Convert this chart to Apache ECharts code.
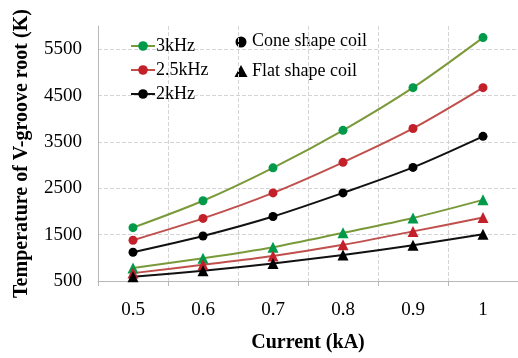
<!DOCTYPE html>
<html>
<head>
<meta charset="utf-8">
<script src="https://cdn.jsdelivr.net/npm/echarts@6/dist/echarts.min.js"></script>
<style>
  html, body { margin: 0; padding: 0; background: #fff; }
  #box { width: 518px; height: 358px; }
</style>
</head>
<body>
<div id="box"></div>
<script>
var currents = ['0.5', '0.6', '0.7', '0.8', '0.9', '1'];
var yTicks = [500, 6000, 1000];

// cone shape coil
var cone3k = [1650, 2230, 2940, 3750, 4670, 5750];
var cone25k = [1380, 1850, 2400, 3060, 3790, 4670];
var cone2k = [1120, 1470, 1890, 2400, 2950, 3620];
// flat shape coil
var flat3k = [780, 990, 1230, 1540, 1860, 2250];
var flat25k = [670, 850, 1040, 1280, 1570, 1870];
var flat2k = [590, 720, 880, 1060, 1270, 1510];

var serif = '"Liberation Serif", "Times New Roman", serif';

function line(name, data, symbol, lineColor, dotColor, size) {
  return {
    name: name,
    type: 'line',
    data: data,
    smooth: 0.3,
    symbol: symbol,
    symbolSize: size,
    showAllSymbol: true,
    lineStyle: { color: lineColor, width: 2 },
    itemStyle: { color: dotColor },
    emphasis: { disabled: true }
  };
}

var myChart = echarts.init(document.getElementById('box'));
var option = {
  animation: false,
  grid: { left: 98, right: 0, top: 26, bottom: 75 },
  legend: {
    data: ['3kHz', '2.5kHz', '2kHz'],
    orient: 'vertical',
    left: 125,
    top: 32,
    itemWidth: 24,
    itemHeight: 12,
    itemGap: 6,
    selectedMode: false,
    textStyle: { fontFamily: serif, fontSize: 18, color: '#000', padding: [0, 0, 0, -4] }
  },
  xAxis: {
    type: 'category',
    data: currents,
    name: 'Current (kA)',
    nameLocation: 'middle',
    nameGap: 52,
    nameTextStyle: { fontFamily: serif, fontSize: 20, fontWeight: 'bold', color: '#000' },
    axisLine: { lineStyle: { color: '#b8b8b8' } },
    axisTick: { show: true, length: 5, lineStyle: { color: '#b8b8b8' } },
    axisLabel: { fontFamily: serif, fontSize: 19, color: '#000', margin: 20 },
    splitLine: { show: true, lineStyle: { color: '#d4d4d4', type: 'dashed' } }
  },
  yAxis: {
    type: 'value',
    min: yTicks[0],
    max: yTicks[1],
    interval: yTicks[2],
    name: 'Temperature of V-groove root (K)',
    nameLocation: 'middle',
    nameGap: 66,
    nameTextStyle: { fontFamily: serif, fontSize: 20, fontWeight: 'bold', color: '#000' },
    axisLine: { show: true, lineStyle: { color: '#b8b8b8' } },
    axisTick: { show: false },
    axisLabel: {
      fontFamily: serif, fontSize: 19, color: '#000', margin: 16, showMaxLabel: false,
      formatter: function (v) { return String(v); }
    },
    splitLine: { show: true, showMaxLine: false, lineStyle: { color: '#d4d4d4', type: 'dashed' } }
  },
  graphic: [
    { type: 'circle', shape: { cx: 241, cy: 42, r: 5.5 }, style: { fill: '#000' } },
    { type: 'polygon', shape: { points: [[241, 65], [247.5, 77], [234.5, 77]] }, style: { fill: '#000' } },
    { type: 'text', left: 252, top: 32, style: { text: 'Cone shape coil', font: '18px ' + serif, fill: '#000' } },
    { type: 'text', left: 252, top: 62, style: { text: 'Flat shape coil', font: '18px ' + serif, fill: '#000' } }
  ],
  series: [
    line('3kHz', cone3k, 'circle', '#7a9a3a', '#009a4a', 9),
    line('2.5kHz', cone25k, 'circle', '#c0504d', '#c4202a', 9),
    line('2kHz', cone2k, 'circle', '#111', '#000', 9),
    line('3kHz', flat3k, 'triangle', '#7a9a3a', '#009a4a', 11),
    line('2.5kHz', flat25k, 'triangle', '#c0504d', '#c4202a', 11),
    line('2kHz', flat2k, 'triangle', '#111', '#000', 11)
  ]
};

myChart.setOption(option);
</script>
</body>
</html>
